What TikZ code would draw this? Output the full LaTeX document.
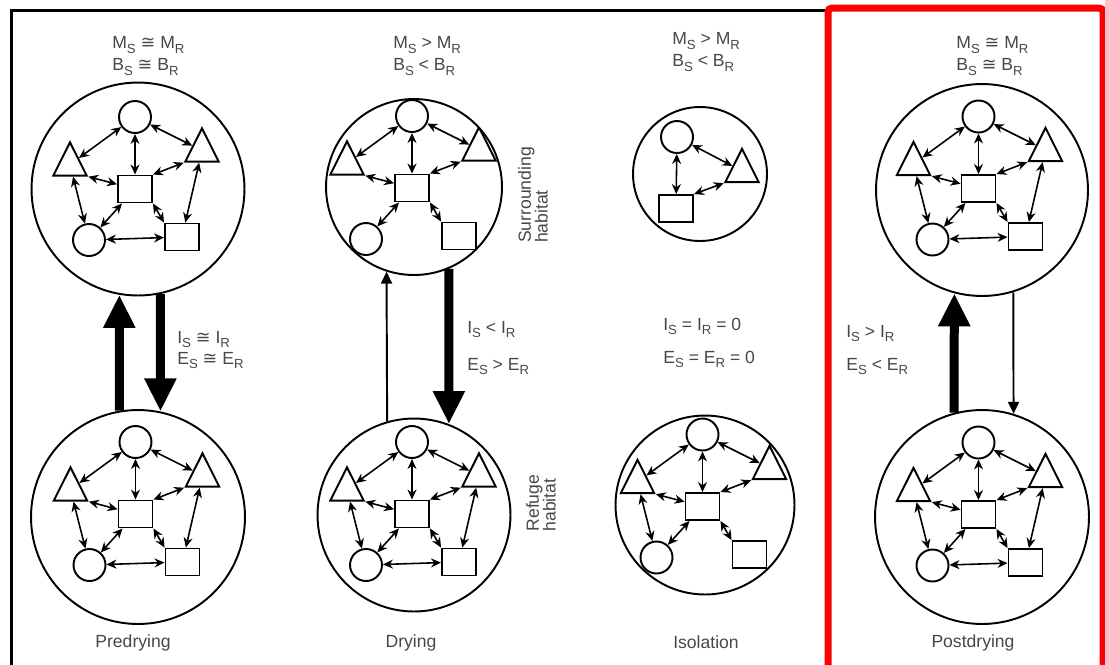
\documentclass[tikz,border=0pt]{standalone}
\usepackage{fontspec}
\setmainfont{Liberation Sans}
\newfontfamily\symfont{DejaVu Sans}
\usetikzlibrary{arrows.meta,shapes.geometric}

\newcommand{\cng}{{\symfont ≅}}
\newcommand{\sbs}[1]{\raisebox{-2.4pt}{\fontsize{7.5}{8}\selectfont#1}}

\begin{document}
\begin{tikzpicture}
  [x=0.02cm,y=-0.02cm,
   habitat/.style={circle,draw,line width=1.1pt,inner sep=0pt},
   spc/.style={circle,draw,line width=1.1pt,minimum size=0.64cm,inner sep=0pt},
   sps/.style={rectangle,draw,line width=1.1pt,minimum width=0.68cm,minimum height=0.54cm,inner sep=0pt},
   spt/.style={regular polygon,regular polygon sides=3,draw,line width=1.1pt,minimum size=0.77cm,inner sep=0pt,yscale=1.15},
   link/.style={<->,>={Stealth[length=0.2cm,width=0.18cm]},line width=0.9pt},
   big flow/.style={line width=0.18cm,-{Triangle[length=0.66cm,width=0.6cm]}},
   small flow/.style={line width=1.1pt,-{Triangle[length=0.24cm,width=0.22cm]}},
   lbl/.style={font=\fontsize{10}{12.5}\selectfont,text=black!72,inner sep=0pt,align=left},
   side/.style={font=\fontsize{10}{9.5}\selectfont,text=black!72,inner sep=0pt,align=left,rotate=90}]
  \clip (0,0) rectangle (1105,664);

  % frames
  \draw[line width=0.06cm] (11.5,700) |- (828,10);
  \draw[red,line width=0.14cm,rounded corners=0.08cm] (828,700) |- (1103,8) -- (1103,700);

  % food webs
  \foreach \n/\x/\y/\hx/\hy/\dia in
    {pt/135/189/3/0/4.26, pb/135.5/514/2.5/3/4.28,
     dt/412/188/2/-1/3.52, db/412/514/2/1/3.86,
     ib/702.5/506.5/2.5/-1.5/3.58,
     qt/978.5/188.5/3.5/1.5/4.24, qb/978.5/514.5/3.5/2.5/4.28}
  {
    \begin{scope}[shift={(\x,\y)}]
      \node[habitat,minimum size=\dia cm] (\n) at (\hx,\hy) {};
      \begin{scope}
        \clip (\n.center) circle [radius=\dia cm/2];
        \node[spc] (\n-tc) at (0,-72) {};
        \node[spt] (\n-lt) at (-65,-24.5) {};
        \node[spt] (\n-rt) at (67,-38.5) {};
        \node[sps] (\n-sq) at (0,0) {};
        \node[spc] (\n-bl) at (-46,51) {};
        \node[sps] (\n-br) at (47,48) {};
      \end{scope}
    \end{scope}
    \draw[link] (\n-tc) -- (\n-lt);
    \draw[link] (\n-tc) -- (\n-rt);
    \draw[link] (\n-tc) -- (\n-sq);
    \draw[link] (\n-lt.corner 3) -- (\n-sq);
    \draw[link] (\n-rt.corner 2) -- (\n-sq.north east);
    \draw[link] (\n-sq) -- (\n-bl);
    \draw[link] (\n-sq.south east) -- (\n-br.north west);
  }
  \foreach \n in {pt,pb,db,ib,qt,qb}
    \draw[link] (\n-lt) -- (\n-bl);
  \foreach \n in {pt,pb,db,qt,qb}
  {
    \draw[link] (\n-rt) -- (\n-br);
    \draw[link] (\n-bl) -- (\n-br);
  }

  % isolated pool
  \node[habitat,minimum size=2.68cm] (it) at (700,174) {};
  \node[spc] (it-tc) at (677,137) {};
  \node[spt] (it-rt) at (742,171) {};
  \node[sps] (it-sq) at (676,208.5) {};
  \draw[link] (it-tc) -- (it-rt);
  \draw[link] (it-tc) -- (it-sq);
  \draw[link] (it-sq.north east) -- (it-rt.corner 2);

  % exchanges
  \draw[big flow] (pb.100) -- (pt.260);
  \draw[big flow] (pt.282) -- (pb.78);
  \draw[small flow] (db.106) -- (dt.252);
  \draw[big flow] (dt.293) -- (db.69);
  \draw[big flow] (qb.105) -- (qt.255);
  \draw[small flow] (qt.287) -- (qb.73);

  % labels
  \node[lbl,anchor=west] (pt-lbl) at (112,56) {M\sbs{S} \cng{} M\sbs{R}\\B\sbs{S} \cng{} B\sbs{R}};
  \node[lbl,anchor=west] (dt-lbl) at (393,56) {M\sbs{S} > M\sbs{R}\\B\sbs{S} < B\sbs{R}};
  \node[lbl,anchor=west] (it-lbl) at (672,52) {M\sbs{S} > M\sbs{R}\\B\sbs{S} < B\sbs{R}};
  \node[lbl,anchor=west] (qt-lbl) at (956,56) {M\sbs{S} \cng{} M\sbs{R}\\B\sbs{S} \cng{} B\sbs{R}};

  \node[lbl,anchor=west] (pf-lbl) at (177,350) {I\sbs{S} \cng{} I\sbs{R}\\[-0.5pt]E\sbs{S} \cng{} E\sbs{R}};
  \node[lbl,anchor=west] (df-lbl) at (467,348) {I\sbs{S} < I\sbs{R}\\[8.5pt]E\sbs{S} > E\sbs{R}};
  \node[lbl,anchor=west] (if-lbl) at (663,343) {I\sbs{S} = I\sbs{R} = 0\\[6.3pt]E\sbs{S} = E\sbs{R} = 0};
  \node[lbl,anchor=west] (qf-lbl) at (846,350) {I\sbs{S} > I\sbs{R}\\[6.3pt]E\sbs{S} < E\sbs{R}};

  \node[side] (surr) at (533,195) {Surrounding\\habitat};
  \node[side] (refu) at (541,503) {Refuge\\habitat};

  \node[lbl] (pred) at (133,643) {Predrying};
  \node[lbl] (dry) at (411,643) {Drying};
  \node[lbl] (iso) at (706,642) {Isolation};
  \node[lbl] (post) at (973,643) {Postdrying};
\end{tikzpicture}
\end{document}
